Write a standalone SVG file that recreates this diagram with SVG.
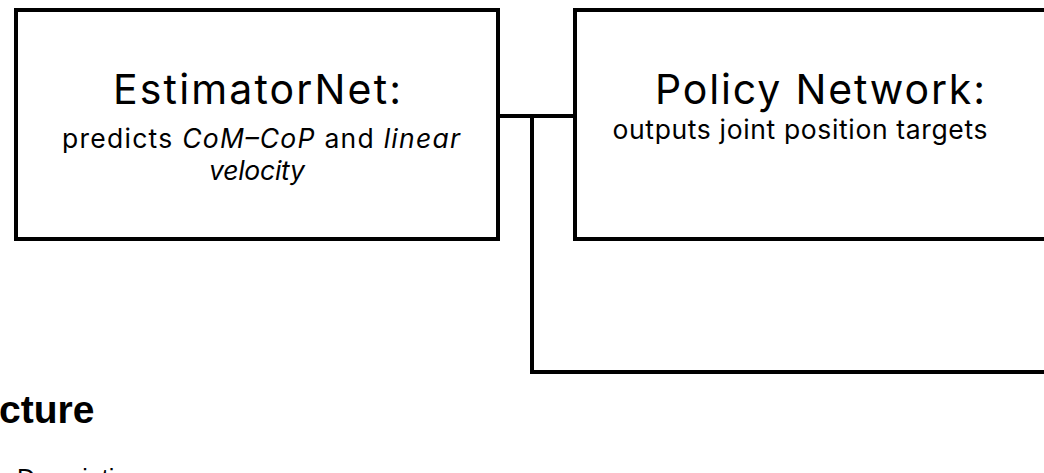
<svg xmlns="http://www.w3.org/2000/svg" width="1044" height="473" viewBox="0 0 1044 473">
  <style>
    .box { fill: #ffffff; stroke: #000000; stroke-width: 4; }
    .wire { fill: none; stroke: #000000; stroke-width: 4; }
    .title { font-family: Inter, "Liberation Sans", Arial, sans-serif; font-size: 41px; fill: #000000; text-anchor: middle; }
    .sub { font-family: Inter, "Liberation Sans", Arial, sans-serif; font-size: 26.5px; fill: #000000; text-anchor: middle; }
    .it { font-style: italic; }
    .head { font-family: "Liberation Sans", Arial, sans-serif; font-size: 39px; font-weight: bold; fill: #000000; }
    .body { font-family: "Liberation Sans", Arial, sans-serif; font-size: 25px; fill: #000000; }
  </style>
  <rect width="1044" height="473" fill="#ffffff"/>
  <g id="connectors">
    <path class="wire" d="M498,116 H575"/>
    <path class="wire" d="M532,116 V372 H1044"/>
  </g>
  <g id="estimatornet">
    <rect class="box" x="16" y="10" width="482" height="229"/>
    <text class="title" x="257" y="104" textLength="288" lengthAdjust="spacing">EstimatorNet:</text>
    <text class="sub" x="261" y="148" textLength="398" lengthAdjust="spacing">predicts <tspan class="it">CoM–CoP</tspan> and <tspan class="it">linear</tspan></text>
    <text class="sub" x="257" y="180" textLength="96" lengthAdjust="spacing"><tspan class="it">velocity</tspan></text>
  </g>
  <g id="policy-network">
    <rect class="box" x="575" y="10" width="480" height="229"/>
    <text class="title" x="820" y="104" textLength="330" lengthAdjust="spacing">Policy Network:</text>
    <text class="sub" x="800" y="139" textLength="375" lengthAdjust="spacing">outputs joint position targets</text>
  </g>
  <g id="page-text">
    <text class="head" x="-1" y="423">cture</text>
    <text class="body" x="17" y="487">Descriptive</text>
  </g>
</svg>
